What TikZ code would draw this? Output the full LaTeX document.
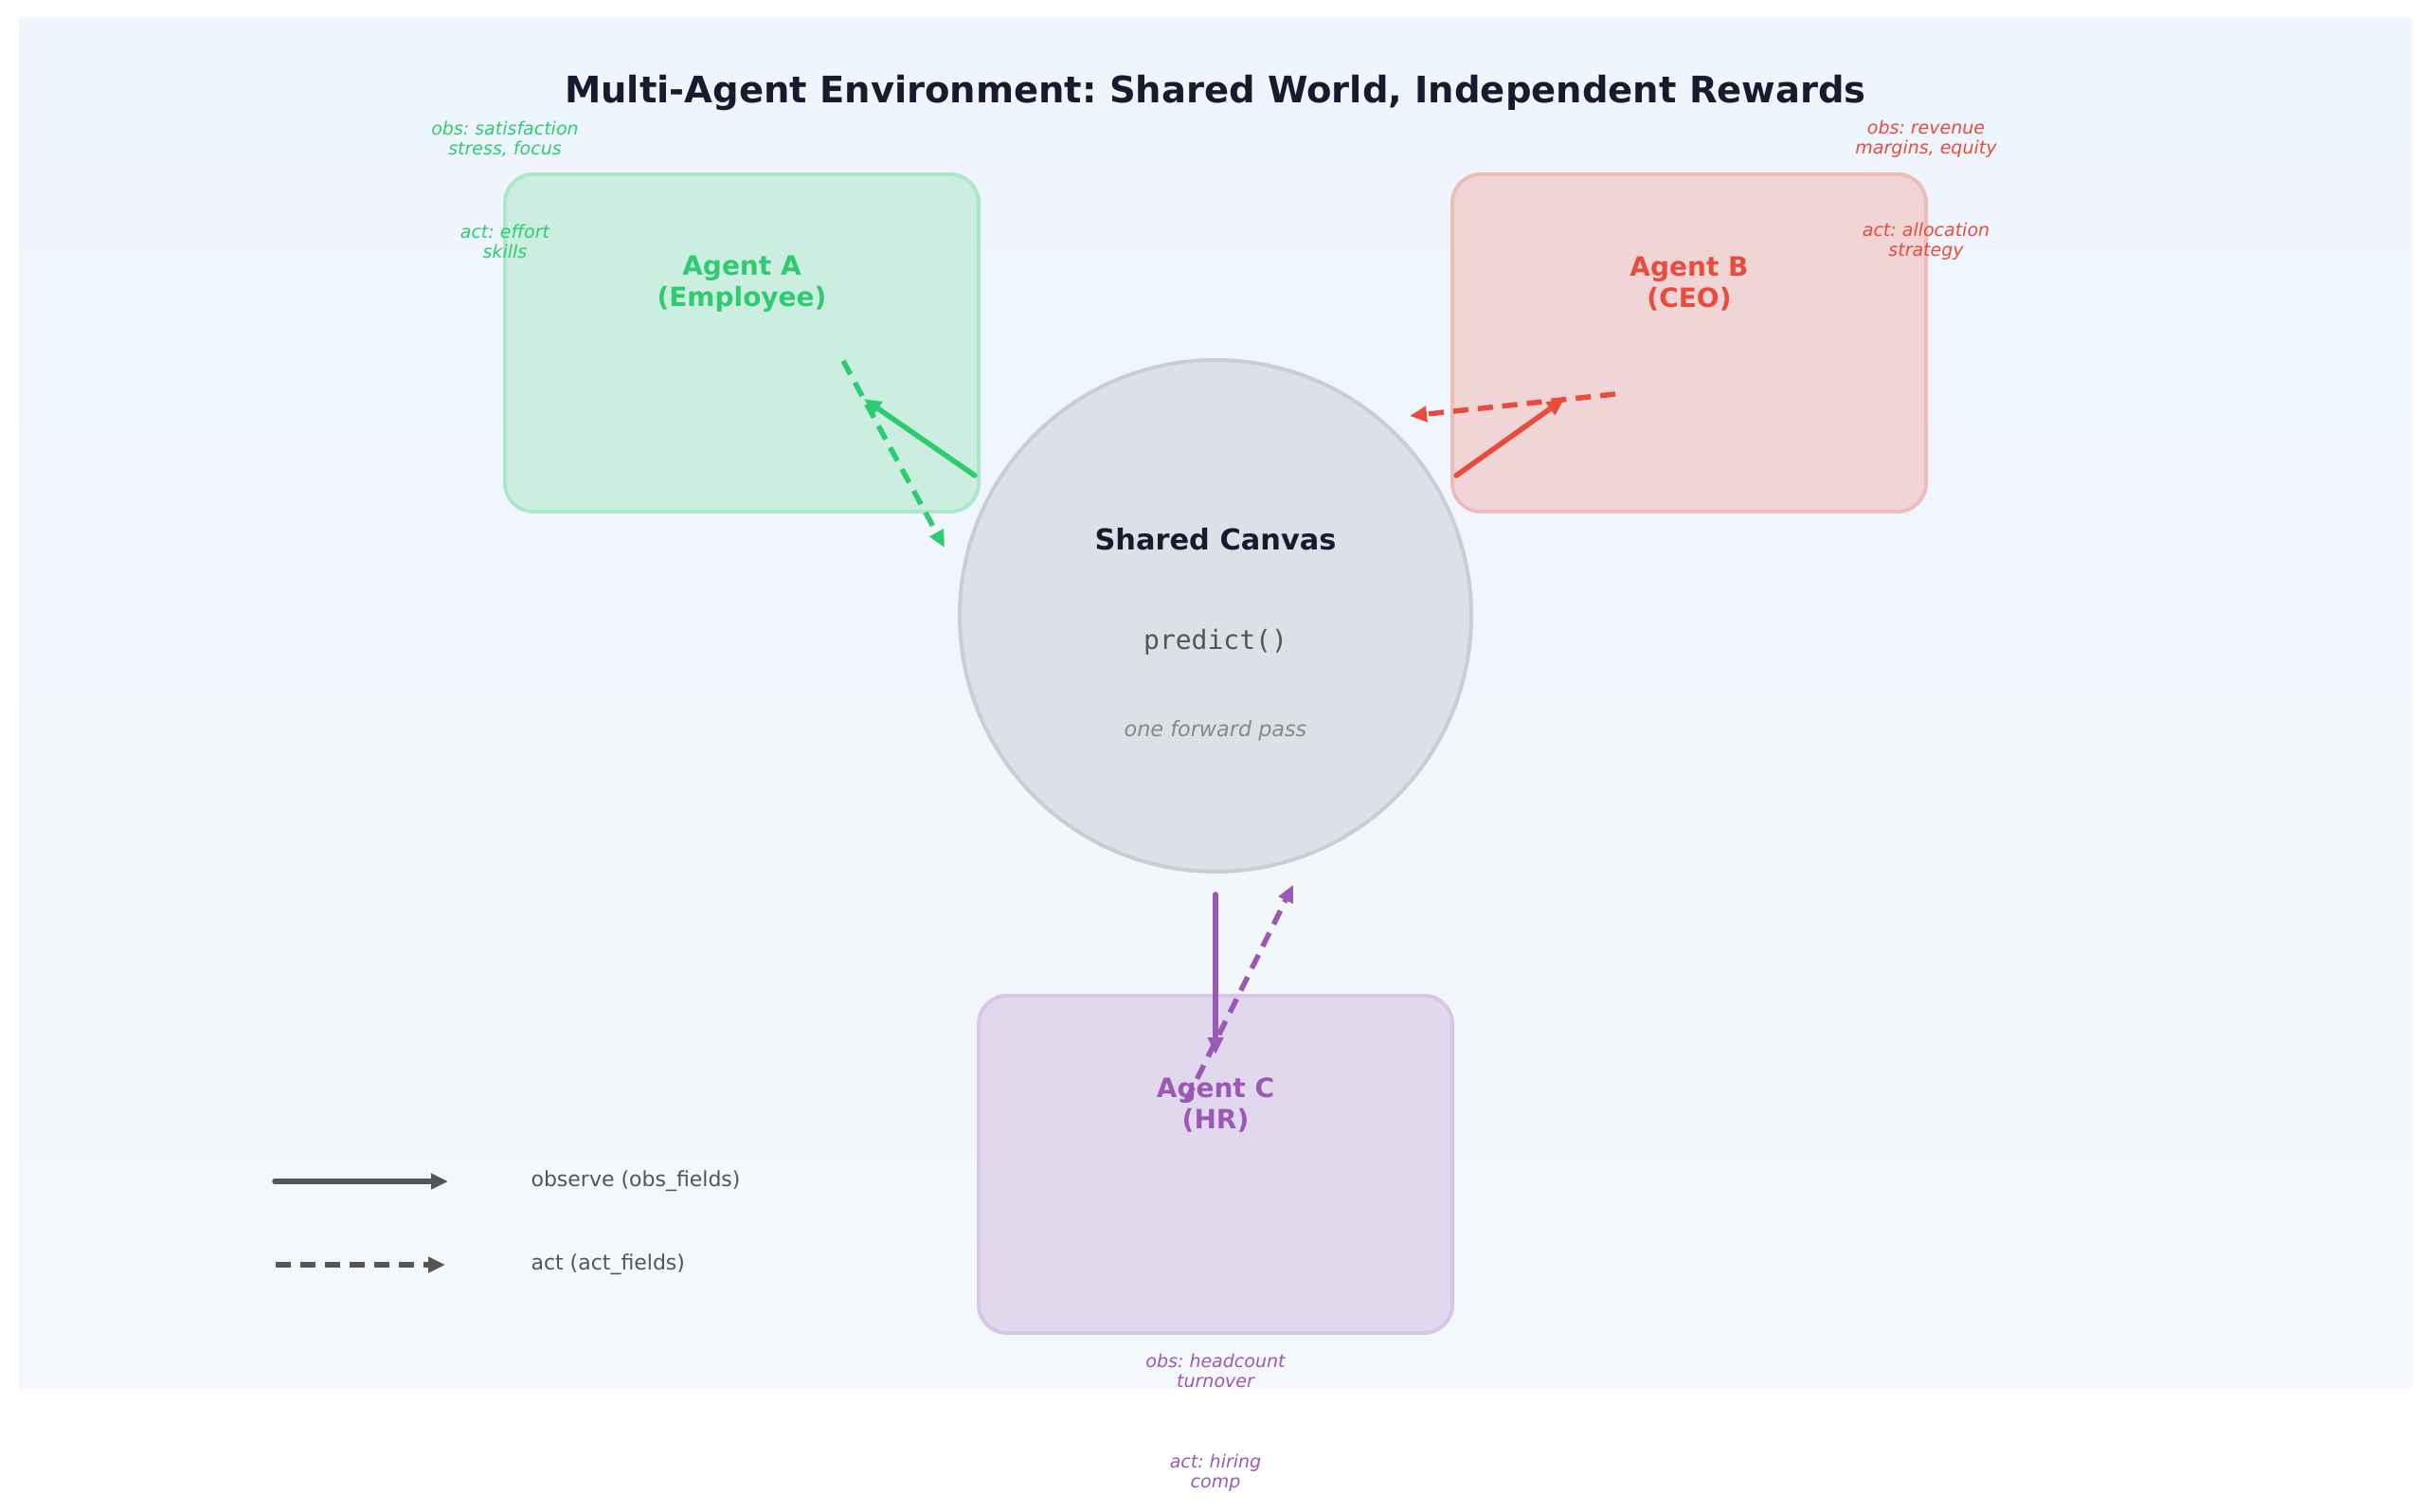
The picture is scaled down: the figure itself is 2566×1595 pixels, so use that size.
\documentclass[tikz,border=0pt]{standalone}
\usepackage{fontspec}
\setmainfont{DejaVu Sans}
\setmonofont{DejaVu Sans Mono}
\usetikzlibrary{arrows.meta}
\frenchspacing
\definecolor{bgtop}{HTML}{EFF5FD}
\definecolor{bgbot}{HTML}{F4F8FC}
\definecolor{titlec}{HTML}{1A1A2E}
\definecolor{agA}{HTML}{2ECC71}
\definecolor{agAfill}{HTML}{CBEEE0}
\definecolor{agAline}{HTML}{ADE7C9}
\definecolor{agB}{HTML}{E74C3C}
\definecolor{agBfill}{HTML}{F0D4D6}
\definecolor{agBline}{HTML}{EDBDBD}
\definecolor{agC}{HTML}{9B59B6}
\definecolor{agCfill}{HTML}{E2D8EE}
\definecolor{agCline}{HTML}{D8C6E7}
\definecolor{canvfill}{HTML}{DDE0E7}
\definecolor{canvline}{HTML}{CACDD5}
\definecolor{legc}{HTML}{555555}
\definecolor{passc}{HTML}{888888}
\tikzset{
  agentbox/.style={draw, line width=4pt, rounded corners=30pt, minimum width=500pt, minimum height=356pt, inner sep=0pt},
  agentname/.style={font=\fontsize{28}{33}\selectfont\bfseries, align=center},
  fieldlbl/.style={font=\fontsize{19}{21}\selectfont\itshape, align=center},
  obsarrow/.style={line width=5.5pt, line cap=round, -{Triangle[length=18pt,width=16pt]}},
  actarrow/.style={line width=5.5pt, dash pattern=on 16pt off 10pt, -{Triangle[length=18pt,width=16pt]}},
  legtext/.style={font=\fontsize{22}{26}\selectfont, text=legc, anchor=west}
}
\begin{document}
\begin{tikzpicture}[x=1pt,y=-1pt]
\useasboundingbox (0,0) rectangle (2566,1595);
\fill[white] (0,0) rectangle (2566,1595);
\shade[top color=bgtop, bottom color=bgbot] (20,20) rectangle (2546,1465);

\node[font=\fontsize{38.5}{45}\selectfont\bfseries, text=titlec] (title) at (1283,98) {Multi-Agent Environment: Shared World, Independent Rewards};

% agents
\node[agentbox, fill=agAfill, draw=agAline] (boxA) at (783,362) {};
\node[agentname, text=agA] (nameA) at (783,300) {Agent A\\(Employee)};
\node[agentbox, fill=agBfill, draw=agBline] (boxB) at (1783,362) {};
\node[agentname, text=agB] (nameB) at (1783,300) {Agent B\\(CEO)};
\node[agentbox, fill=agCfill, draw=agCline] (boxC) at (1283,1229) {};
\node[agentname, text=agC] (nameC) at (1283,1166) {Agent C\\(HR)};

% canvas
\node[circle, draw=canvline, line width=4pt, fill=canvfill, minimum size=540pt, inner sep=0pt] (canvas) at (1283,650) {};
\node[font=\fontsize{30.4}{35}\selectfont\bfseries, text=titlec] (cantitle) at (1283,569) {Shared Canvas};
\node[font=\fontsize{28}{33}\selectfont\ttfamily, text=legc] (canpred) at (1283,678) {predict()};
\node[font=\fontsize{22.3}{26}\selectfont\itshape, text=passc] (canpass) at (1283,771) {one forward pass};

% field labels
\node[fieldlbl, text=agA] (obsA) at (533,147) {obs: satisfaction\\stress, focus};
\node[fieldlbl, text=agA] (actA) at (533,255) {act: effort\\skills};
\node[fieldlbl, text=agB] (obsB) at (2033,147) {obs: revenue\\margins, equity};
\node[fieldlbl, text=agB] (actB) at (2033,255) {act: allocation\\strategy};
\node[fieldlbl, text=agC] (obsC) at (1283,1447) {obs: headcount\\turnover};
\node[fieldlbl, text=agC] (actC) at (1283,1555) {act: hiring\\comp};

% arrow endpoints
\coordinate (aoS) at (1029,502); \coordinate (aoE) at (912,421);
\coordinate (aaS) at (890,381);  \coordinate (aaE) at (997,578);
\coordinate (boS) at (1537,502); \coordinate (boE) at (1651,421);
\coordinate (baS) at (1705,416); \coordinate (baE) at (1488,439);
\coordinate (coS) at (1283,944); \coordinate (coE) at (1283,1113);
\coordinate (caS) at (1252,1162); \coordinate (caE) at (1365,934);

\draw[obsarrow, agA] (aoS) -- (aoE);
\draw[actarrow, agA] (aaS) -- (aaE);
\draw[obsarrow, agB] (boS) -- (boE);
\draw[actarrow, agB] (baS) -- (baE);
\draw[obsarrow, agC] (coS) -- (coE);
\draw[actarrow, agC] (caS) -- (caE);

% legend
\coordinate (l1S) at (290,1247); \coordinate (l1E) at (473,1247);
\coordinate (l2S) at (291,1335); \coordinate (l2E) at (470,1335);
\draw[obsarrow, legc] (l1S) -- (l1E);
\draw[actarrow, legc] (l2S) -- (l2E);
\node[legtext] (leg1) at (557,1247) {observe (obs\_fields)};
\node[legtext] (leg2) at (557,1335) {act (act\_fields)};
\end{tikzpicture}
\end{document}
